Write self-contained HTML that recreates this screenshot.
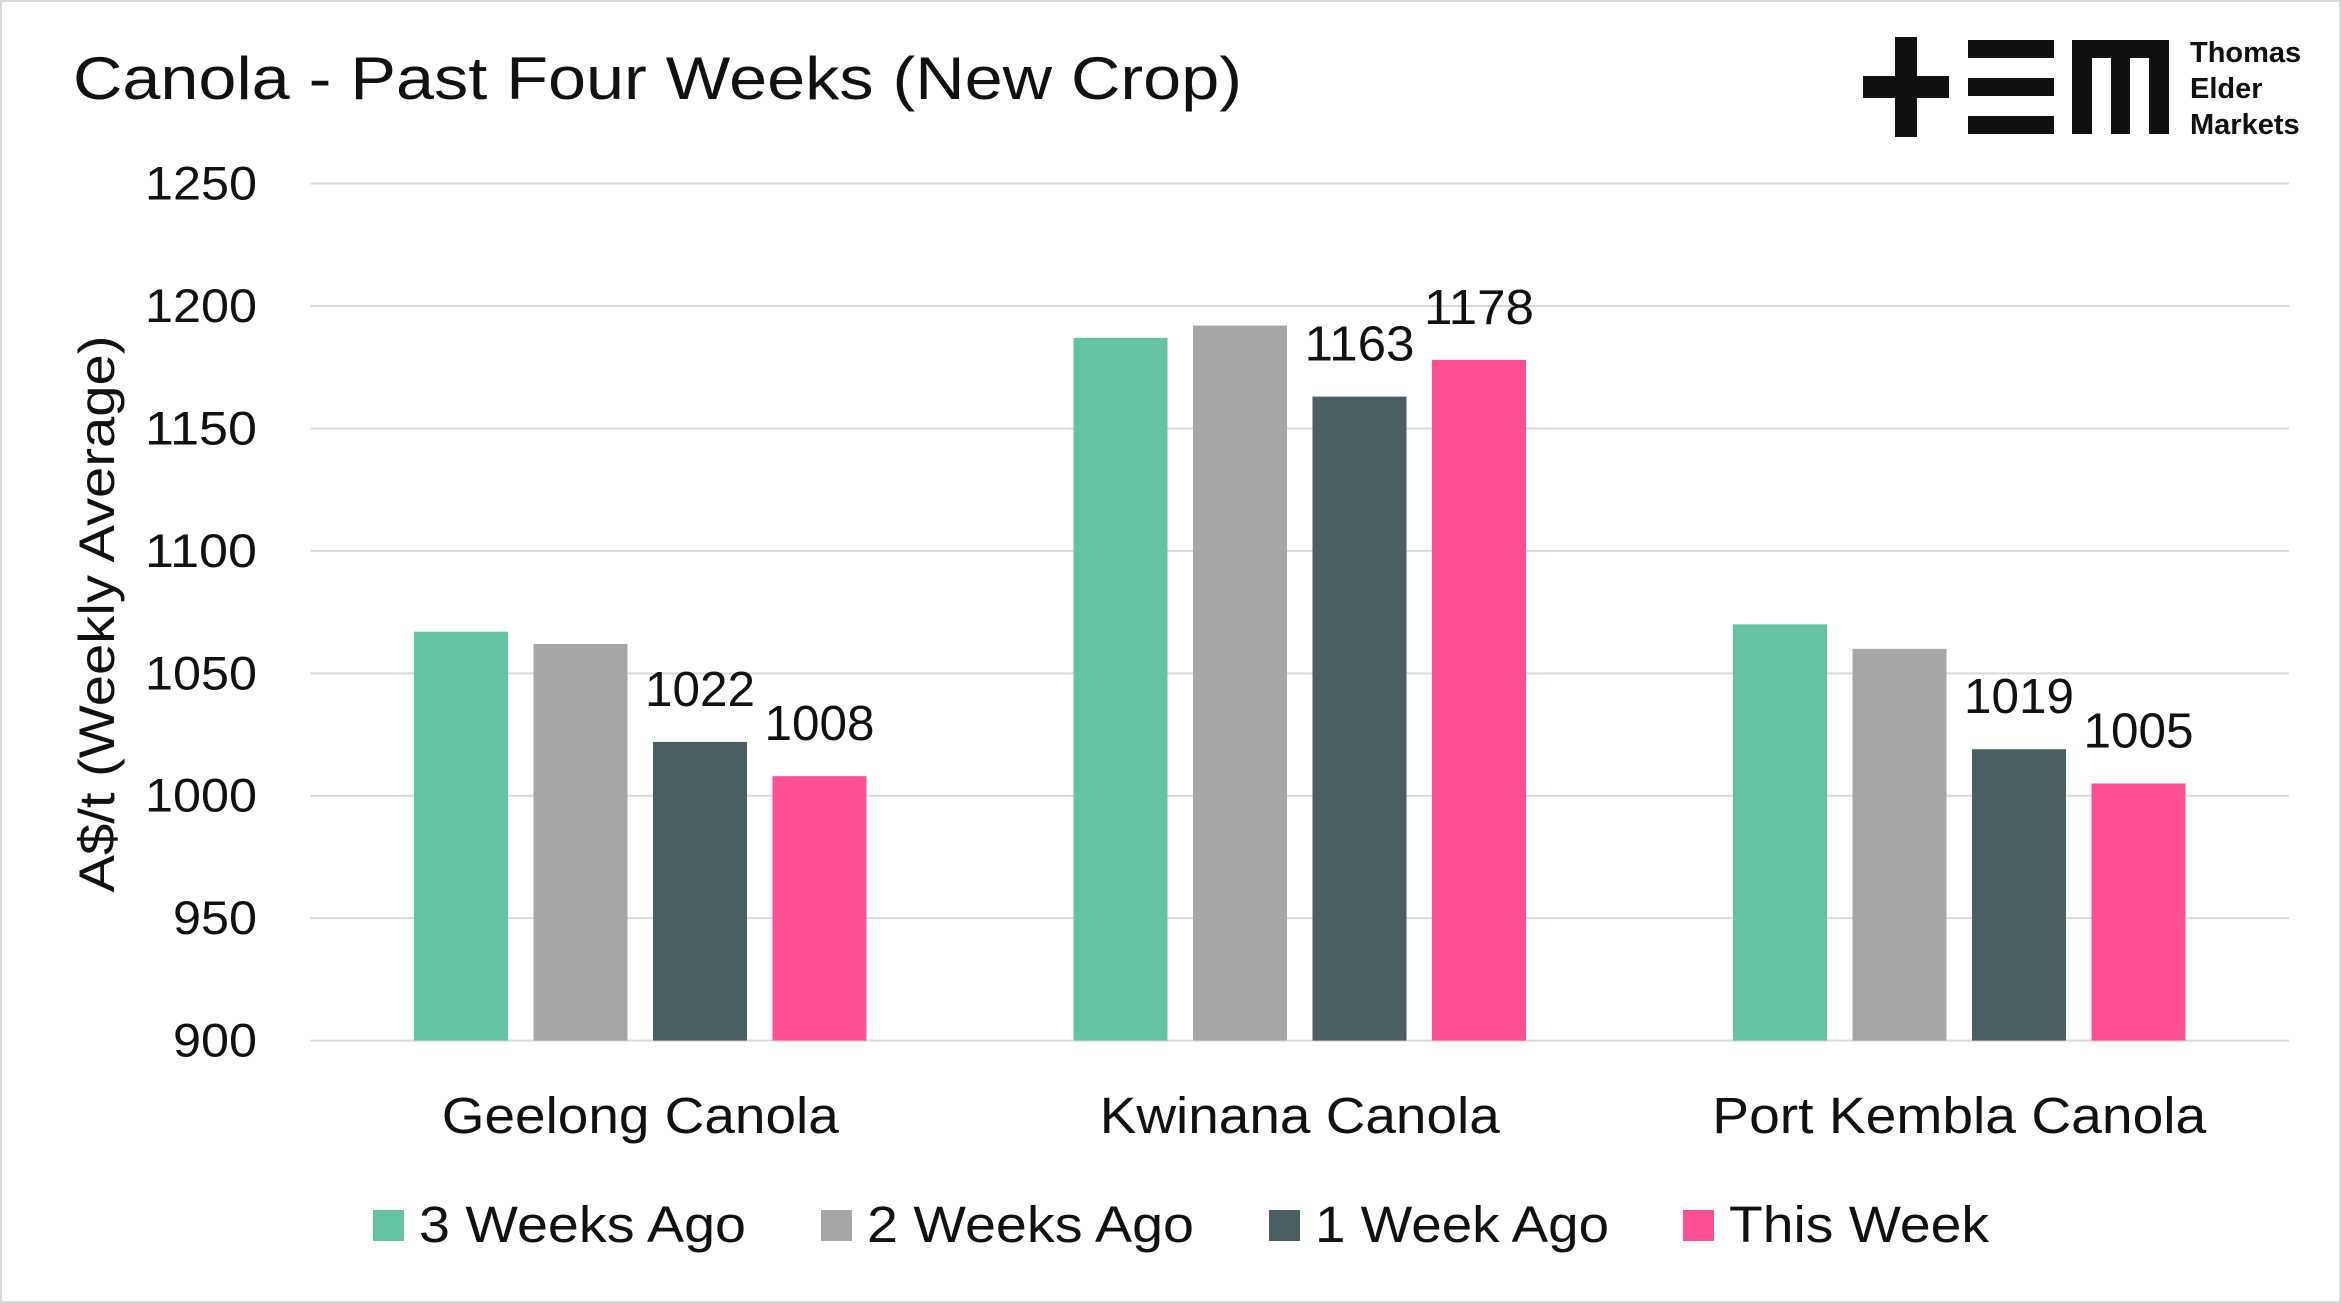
<!DOCTYPE html>
<html><head><meta charset="utf-8"><style>
html,body{margin:0;padding:0;background:#fff;}
svg{display:block;font-family:"Liberation Sans",sans-serif;}
</style></head><body>
<svg id="chart" width="2341" height="1303" viewBox="0 0 2341 1303">
<rect x="1" y="1" width="2339" height="1301" fill="#fff" stroke="#d9d9d9" stroke-width="2"/>
<text x="73" y="99" font-size="60" fill="#111" textLength="1169" lengthAdjust="spacingAndGlyphs">Canola - Past Four Weeks (New Crop)</text>
<g>
<rect x="1895" y="37" width="22" height="100" fill="#111"/>
<rect x="1863" y="76" width="86" height="22" fill="#111"/>
<rect x="1968" y="40" width="86" height="18" fill="#111"/>
<rect x="1968" y="78" width="86" height="18" fill="#111"/>
<rect x="1968" y="116" width="86" height="18" fill="#111"/>
<path d="M2072 40 H2169 V134 H2149 V58 H2130 V134 H2111 V58 H2092 V134 H2072 Z" fill="#111"/>
<text x="2190" y="62" font-size="29" font-weight="bold" fill="#111">Thomas</text>
<text x="2190" y="98" font-size="29" font-weight="bold" fill="#111">Elder</text>
<text x="2190" y="134" font-size="29" font-weight="bold" fill="#111">Markets</text>
</g>
<text transform="translate(114,614) rotate(-90)" text-anchor="middle" font-size="50" fill="#111" textLength="557" lengthAdjust="spacingAndGlyphs">A$/t (Weekly Average)</text>
<g id="grid"></g><g id="bars"></g><g id="labels"></g><g id="legend"></g>
</svg>
<script>
const categories = ["Geelong Canola","Kwinana Canola","Port Kembla Canola"];
const seriesNames = ["3 Weeks Ago","2 Weeks Ago","1 Week Ago","This Week"];
const seriesColors = ["#64C3A5","#A6A6A6","#4C5F60","#FF4F95"];
const s3WeeksAgo = [1067,1187,1070];
const s2WeeksAgo = [1062,1192,1060];
const s1WeekAgo = [1022,1163,1019];
const sThisWeek = [1008,1178,1005];
const yTicks = [900,950,1000,1050,1100,1150,1200,1250];
const labeledSeries = [2,3];

const series=[s3WeeksAgo,s2WeeksAgo,s1WeekAgo,sThisWeek];
const catLen=[397,400,494];
const legLen=[327,327,294,260];
const NS="http://www.w3.org/2000/svg";
const L=310.5,R=2289,T=183.6,B=1040.6,ymin=900,ymax=1250;
const y=v=>B-(v-ymin)/(ymax-ymin)*(B-T);
const catW=(R-L)/categories.length;
const bw=94,step=119.5;
const bx=(c,s)=>L+catW*(c+0.5)+(s-1.5)*step-bw/2;
function mk(tag,attrs,parent,text){const e=document.createElementNS(NS,tag);for(const k in attrs)e.setAttribute(k,attrs[k]);if(text!==undefined)e.textContent=text;document.getElementById(parent).appendChild(e);return e;}
yTicks.forEach(t=>{
 const g=mk('line',{x1:L,x2:R,y1:y(t),y2:y(t),stroke:'#d9d9d9','stroke-width':2},'grid');
 
 
 const len=String(t).length===4?112:84;
 const tl=mk('text',{x:257-len,y:y(t)+16,'font-size':47,fill:'#111',textLength:len,lengthAdjust:'spacingAndGlyphs'},'grid',t);
 
 
});
categories.forEach((c,ci)=>{
 series.forEach((s,si)=>{
  const r=mk('rect',{x:bx(ci,si),y:y(s[ci]),width:bw,height:y(ymin)-y(s[ci]),fill:seriesColors[si]},'bars');
  
  
  if(labeledSeries.includes(si)){
   const t=mk('text',{x:bx(ci,si)+bw/2-55,y:y(s[ci])-36,'font-size':49,fill:'#111',textLength:110,lengthAdjust:'spacingAndGlyphs'},'labels',s[ci]);
   
   
  }
 });
 const cx=L+catW*(ci+0.5);
 const cl=mk('text',{x:cx-catLen[ci]/2,y:1133,'font-size':51,fill:'#111',textLength:catLen[ci],lengthAdjust:'spacingAndGlyphs'},'labels',c);
 
 
});
const lx=[373,821,1269,1683];
seriesNames.forEach((n,i)=>{
 const sq=mk('rect',{x:lx[i],y:1210,width:31,height:31,fill:seriesColors[i]},'legend');
 
 
 const t=mk('text',{x:lx[i]+46,y:1242,'font-size':51,fill:'#111',textLength:legLen[i],lengthAdjust:'spacingAndGlyphs'},'legend',n);
 
 
});
</script>
</body></html>
